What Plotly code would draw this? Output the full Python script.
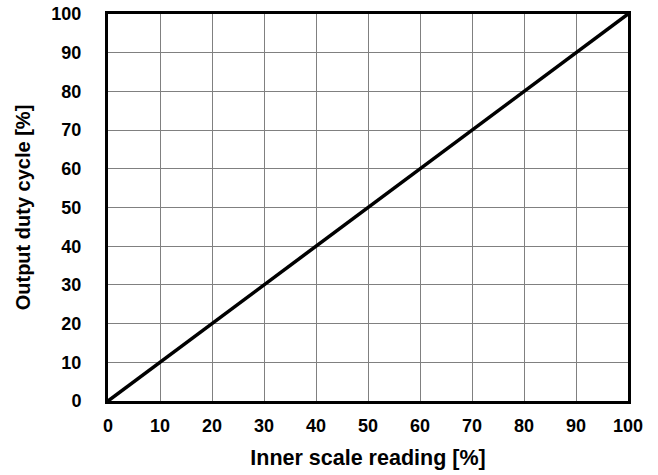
import plotly.graph_objects as go

x_vals = [0, 100]
y_vals = [0, 100]
tick_vals = [0, 10, 20, 30, 40, 50, 60, 70, 80, 90, 100]
x_title = "Inner scale reading [%]"
y_title = "Output duty cycle [%]"

fam = "Liberation Sans, Arial, sans-serif"

fig = go.Figure()
fig.add_trace(go.Scatter(x=x_vals, y=y_vals, mode="lines",
                         line=dict(color="black", width=3.5), showlegend=False))

axis_common = dict(
    range=[0, 100], tickvals=tick_vals, ticks="",
    showgrid=True, gridcolor="#808080", gridwidth=1,
    showline=True, linecolor="black", linewidth=3, mirror=True,
    zeroline=False, tickfont=dict(family=fam, size=18, color="black", weight="bold"),
    fixedrange=True, automargin=False,
)

fig.update_xaxes(**axis_common, ticklabelstandoff=6,
                 title=dict(text=x_title, font=dict(family=fam, size=21.5, color="black", weight="bold"), standoff=16))
fig.update_yaxes(**axis_common, ticklabelstandoff=20,
                 title=dict(text=y_title, font=dict(family=fam, size=20, color="black", weight="bold"), standoff=16))

fig.update_layout(
    width=658, height=475,
    margin=dict(l=108, r=30, t=14, b=74),
    plot_bgcolor="white", paper_bgcolor="white",
    font=dict(family=fam, size=18, color="black"),
)

fig.write_html("out.html", config={"displayModeBar": False},
               post_script="document.body.style.margin='0';")
